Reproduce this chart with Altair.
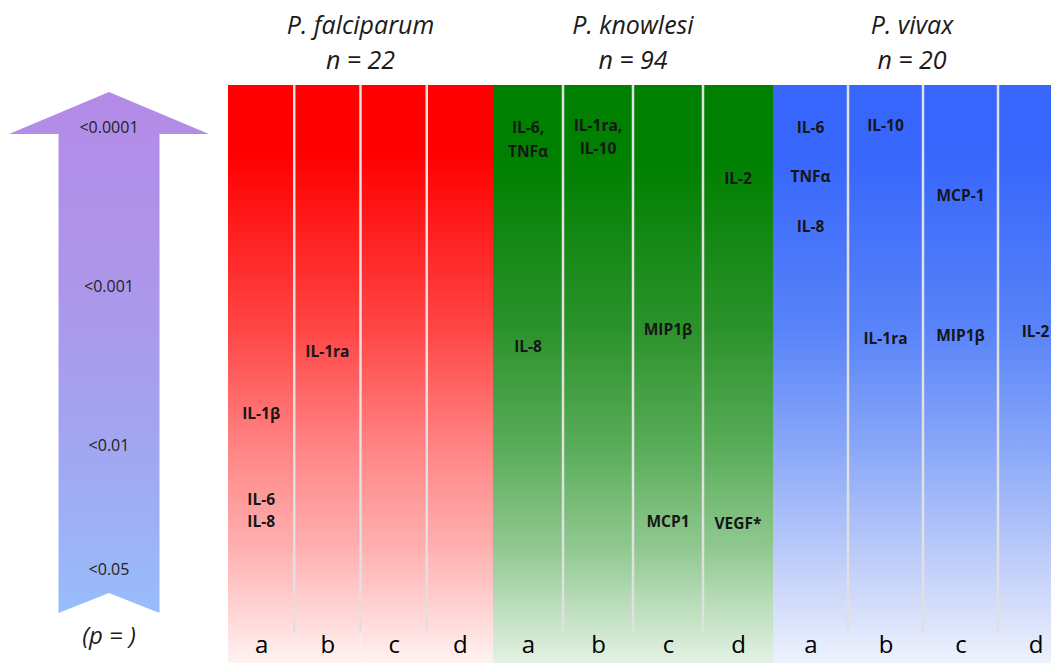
import altair as alt
import pandas as pd

# ---------------- data ----------------
species = ["P. falciparum", "P. knowlesi", "P. vivax"]
sample_sizes = [22, 94, 20]
columns = ["a", "b", "c", "d"]

# significance scale (position on a -log10(p) axis, read from the arrow)
p_labels = ["<0.0001", "<0.001", "<0.01", "<0.05"]
p_levels = [4.0, 3.0, 2.0, 1.22]

# cytokines per species: column, name, level on the -log10(p) axis
fal_cols = ["a", "a", "a", "b"]
fal_names = ["IL-1β", "IL-6", "IL-8", "IL-1ra"]
fal_levels = [2.20, 1.66, 1.52, 2.59]

kn_cols = ["a", "a", "a", "b", "b", "c", "c", "d", "d"]
kn_names = ["IL-6,", "TNFα", "IL-8", "IL-1ra,", "IL-10", "MIP1β", "MCP1", "IL-2", "VEGF*"]
kn_levels = [4.00, 3.85, 2.62, 4.01, 3.87, 2.73, 1.52, 3.68, 1.51]

viv_cols = ["a", "a", "a", "b", "b", "c", "c", "d"]
viv_names = ["IL-6", "TNFα", "IL-8", "IL-10", "IL-1ra", "MCP-1", "MIP1β", "IL-2"]
viv_levels = [4.00, 3.69, 3.38, 4.01, 2.67, 3.57, 2.69, 2.72]

# ---------------- layout / style ----------------
Y_DOMAIN = [0.635, 4.755]
COL_TOP = 4.27
SEP_BOTTOM = 0.83
PANEL_H = 655
ARROW_W = 220
FONT = "Open Sans"

yscale = alt.Scale(domain=Y_DOMAIN, nice=False, zero=False)


def grad(stops):
    return alt.LinearGradient(
        gradient="linear",
        stops=[alt.GradientStop(offset=o, color=c) for o, c in stops],
        x1=0, x2=0, y1=0, y2=1,
    )


red = grad([(0, "#ff0000"), (0.12, "#ff0000"), (0.42, "#ff4545"), (0.63, "#ff8585"),
            (0.80, "#ffb0b0"), (1, "#fff2f2")])
green = grad([(0, "#008000"), (0.13, "#008000"), (0.42, "#2b922b"), (0.63, "#5aad5a"),
              (0.80, "#90c890"), (1, "#e4f2e4")])
blue = grad([(0, "#3766fc"), (0.12, "#3766fc"), (0.42, "#5883f8"), (0.63, "#8aa8f8"),
             (0.80, "#b8c8f8"), (1, "#eef2fd")])
arrow_grad = grad([(0, "#b38be7"), (0.35, "#ad95ea"), (0.7, "#a1a7f1"), (1, "#98bdfb")])

idx = {c: i for i, c in enumerate(columns)}
label_expr = "[" + ",".join("'%s'" % c for c in columns) + "][floor(datum.value)]"


def group_panel(name, n, cols, names, levels, width, visible_cols, fill):
    xscale = alt.Scale(domain=[0, visible_cols], nice=False, zero=False)
    col_df = pd.DataFrame({
        "col": columns,
        "x0": [idx[c] for c in columns],
        "x1": [idx[c] + 1 for c in columns],
        "top": COL_TOP,
        "bottom": Y_DOMAIN[0],
    })
    axis = alt.Axis(values=[idx[c] + 0.5 for c in columns], labelExpr=label_expr,
                    orient="bottom", offset=-11, domain=False, ticks=False, tickSize=0,
                    grid=False, labelFontSize=24, labelFont=FONT, labelColor="#000000",
                    labelBaseline="alphabetic", labelPadding=0, labelOverlap=False,
                    labelFlush=False, title=None, zindex=2)
    rects = alt.Chart(col_df).mark_rect(color=fill, clip=True).encode(
        x=alt.X("x0:Q", scale=xscale, axis=axis),
        x2="x1:Q",
        y=alt.Y("top:Q", scale=yscale, axis=None),
        y2="bottom:Q",
    )
    sep_df = pd.DataFrame({"x": [1, 2, 3], "top": COL_TOP, "bottom": SEP_BOTTOM})
    seps = alt.Chart(sep_df).mark_rule(color="#e0e0e0", strokeWidth=2.5).encode(
        x=alt.X("x:Q", scale=xscale), y=alt.Y("top:Q", scale=yscale), y2="bottom:Q")
    lab_df = pd.DataFrame({"x": [idx[c] + 0.5 for c in cols], "name": names, "level": levels})
    labels = alt.Chart(lab_df).mark_text(font=FONT, fontWeight="bold", fontSize=15.5,
                                         color="#161616", align="center", baseline="middle").encode(
        x=alt.X("x:Q", scale=xscale), y=alt.Y("level:Q", scale=yscale), text="name:N")
    t_df = pd.DataFrame({"name": [name], "n": ["n = %d" % n]})
    t1 = alt.Chart(t_df).mark_text(font=FONT, fontStyle="italic", fontSize=25, color="#1a1a1a",
                                   align="center", baseline="alphabetic").encode(
        x=alt.value(width / 2), y=alt.value(26), text="name:N")
    t2 = alt.Chart(t_df).mark_text(font=FONT, fontStyle="italic", fontSize=25, color="#1a1a1a",
                                   align="center", baseline="alphabetic").encode(
        x=alt.value(width / 2), y=alt.value(61), text="n:N")
    return alt.layer(rects, seps, labels, t1, t2).properties(width=width, height=PANEL_H)


fal = group_panel(species[0], sample_sizes[0], fal_cols, fal_names, fal_levels, 265, 4, red)
kn = group_panel(species[1], sample_sizes[1], kn_cols, kn_names, kn_levels, 280, 4, green)
viv = group_panel(species[2], sample_sizes[2], viv_cols, viv_names, viv_levels, 278, 278 / 75, blue)

# ---------------- significance arrow ----------------
ARROW_PATH = "M0,0L1,0.42L0.505,0.42L0.505,5.21L0,5.01L-0.505,5.21L-0.505,0.42L-1,0.42Z"
arrow = alt.Chart(pd.DataFrame({"k": [0]})).mark_point(
    shape=ARROW_PATH, size=40000, filled=True, fill=arrow_grad, strokeWidth=0, opacity=1
).encode(x=alt.value(101), y=alt.value(84))

p_df = pd.DataFrame({"label": p_labels, "level": p_levels})
p_text = alt.Chart(p_df).mark_text(font=FONT, fontSize=16, color="#222222",
                                   align="center", baseline="middle").encode(
    x=alt.value(101), y=alt.Y("level:Q", scale=yscale, axis=None), text="label:N")
p_title = alt.Chart(pd.DataFrame({"t": ["(p = )"]})).mark_text(
    font=FONT, fontStyle="italic", fontSize=24, color="#1a1a1a", align="center",
    baseline="middle").encode(x=alt.value(101), y=alt.value(629), text="t:N")

arrow_panel = alt.layer(arrow, p_text, p_title).properties(width=ARROW_W, height=PANEL_H)

chart = alt.hconcat(arrow_panel, fal, kn, viv, spacing=0).properties(
    padding=0, background="white"
).configure_view(stroke=None)

chart.save("out.html", embed_options={"renderer": "svg", "actions": False})
